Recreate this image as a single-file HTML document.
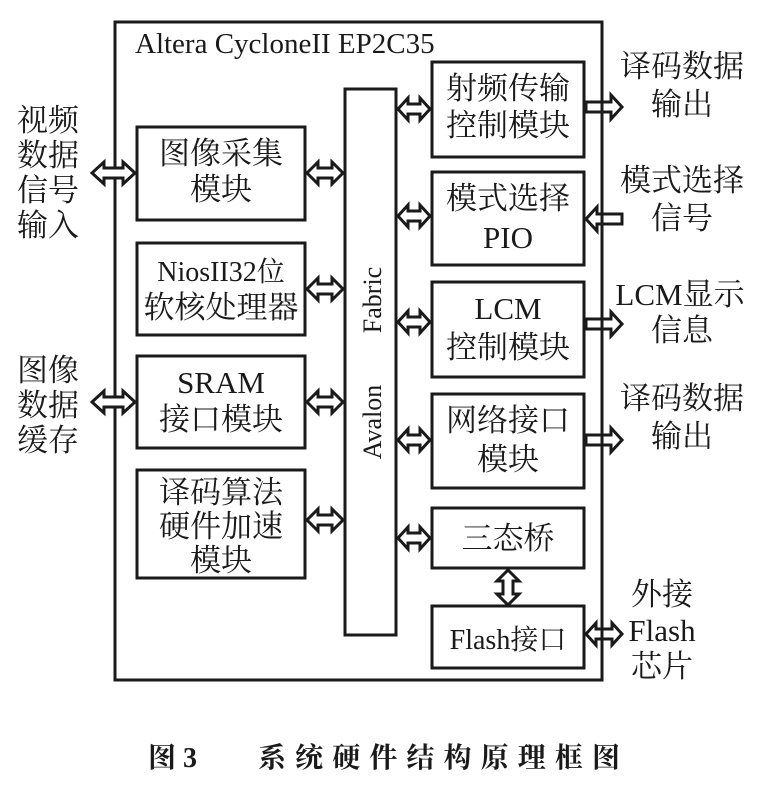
<!DOCTYPE html>
<html><head><meta charset="utf-8"><style>
html,body{margin:0;padding:0;background:#fff;width:760px;height:785px;overflow:hidden}
text{font-family:"Liberation Serif","Noto Serif CJK SC",serif;fill:#1a1a1a}
</style></head><body>
<svg width="760" height="785" viewBox="0 0 760 785" xmlns="http://www.w3.org/2000/svg">
<g fill="none" stroke="#1a1a1a" stroke-width="3">
<rect x="115" y="22" width="487" height="658"/>
<rect x="345" y="89" width="51" height="546"/>
<rect x="137" y="127" width="168" height="93"/>
<rect x="137" y="243" width="168" height="92"/>
<rect x="137" y="356" width="168" height="92"/>
<rect x="137" y="470" width="168" height="108"/>
<rect x="432" y="62" width="152" height="95"/>
<rect x="432" y="172" width="152" height="93"/>
<rect x="432" y="282" width="152" height="95"/>
<rect x="432" y="394" width="152" height="94"/>
<rect x="432" y="508" width="152" height="60"/>
<rect x="432" y="606" width="152" height="62"/>
</g>
<g fill="#fff" stroke="#1a1a1a" stroke-width="3" stroke-linejoin="miter">
<polygon points="92,173 104,162 104,168 123,168 123,162 135,173 123,184 123,178 104,178 104,184"/>
<polygon points="92,402 104,391 104,397 123,397 123,391 135,402 123,413 123,407 104,407 104,413"/>
<polygon points="307,173 318,162 318,168 332,168 332,162 343,173 332,184 332,178 318,178 318,184"/>
<polygon points="307,289 318,278 318,284 332,284 332,278 343,289 332,300 332,294 318,294 318,300"/>
<polygon points="307,402 318,391 318,397 332,397 332,391 343,402 332,413 332,407 318,407 318,413"/>
<polygon points="307,520 318,509 318,515 332,515 332,509 343,520 332,531 332,525 318,525 318,531"/>
<polygon points="398,109 408,98 408,104 420,104 420,98 430,109 420,120 420,114 408,114 408,120"/>
<polygon points="398,216 408,205 408,211 420,211 420,205 430,216 420,227 420,221 408,221 408,227"/>
<polygon points="398,322 408,311 408,317 420,317 420,311 430,322 420,333 420,327 408,327 408,333"/>
<polygon points="398,440 408,429 408,435 420,435 420,429 430,440 420,451 420,445 408,445 408,451"/>
<polygon points="398,538 408,527 408,533 420,533 420,527 430,538 420,549 420,543 408,543 408,549"/>
<polygon points="586,634 596,623 596,629 612,629 612,623 622,634 612,645 612,639 596,639 596,645"/>
<polygon points="586,102 611,102 611,95 622,107 611,119 611,112 586,112"/>
<polygon points="586,319 611,319 611,312 622,324 611,336 611,329 586,329"/>
<polygon points="586,435 611,435 611,428 622,440 611,452 611,445 586,445"/>
<polygon points="622,214 597,214 597,207 586,219 597,231 597,224 622,224"/>
<polygon points="508,570 519,581 513,581 513,594 519,594 508,605 497,594 503,594 503,581 497,581"/>
</g>
<line x1="602" y1="22" x2="602" y2="680" stroke="#1a1a1a" stroke-width="3"/>
<text x="135" y="53" font-size="29">Altera CycloneII EP2C35</text>
<g font-size="31" text-anchor="middle">
<text x="221" y="164">图像采集</text><text x="221" y="200">模块</text>
<text x="221" y="281" font-size="28">NiosII32位</text><text x="221" y="318">软核处理器</text>
<text x="221" y="393">SRAM</text><text x="221" y="430">接口模块</text>
<text x="221" y="503">译码算法</text><text x="221" y="537">硬件加速</text><text x="221" y="571">模块</text>
<text x="508" y="99">射频传输</text><text x="508" y="136">控制模块</text>
<text x="508" y="209">模式选择</text><text x="508" y="248">PIO</text>
<text x="508" y="319">LCM</text><text x="508" y="358">控制模块</text>
<text x="508" y="431">网络接口</text><text x="508" y="470">模块</text>
<text x="508" y="549">三态桥</text>
<text x="508" y="649" font-size="28">Flash接口</text>
</g>
<g font-size="26" transform="translate(381,300) rotate(-90)"><text x="0" y="0" text-anchor="middle">Fabric</text></g>
<g font-size="26" transform="translate(381,422) rotate(-90)"><text x="0" y="0" text-anchor="middle">Avalon</text></g>
<g font-size="31">
<text x="17" y="131">视频</text><text x="17" y="166">数据</text><text x="17" y="201">信号</text><text x="17" y="236">输入</text>
<text x="17" y="381">图像</text><text x="17" y="416">数据</text><text x="17" y="451">缓存</text>
</g>
<g font-size="31" text-anchor="middle">
<text x="682" y="77">译码数据</text><text x="682" y="115">输出</text>
<text x="682" y="191">模式选择</text><text x="682" y="229">信号</text>
<text x="680" y="305">LCM显示</text><text x="682" y="341">信息</text>
<text x="682" y="409">译码数据</text><text x="682" y="447">输出</text>
<text x="662" y="605">外接</text><text x="662" y="641">Flash</text><text x="662" y="677">芯片</text>
</g>
<text x="148" y="767" font-size="28" font-weight="bold" font-family="'Noto Sans CJK SC','Liberation Sans',sans-serif">图 3</text>
<text x="258" y="767" font-size="28" font-weight="bold" font-family="'Noto Sans CJK SC','Liberation Sans',sans-serif" textLength="362">系统硬件结构原理框图</text>
</svg>
</body></html>
